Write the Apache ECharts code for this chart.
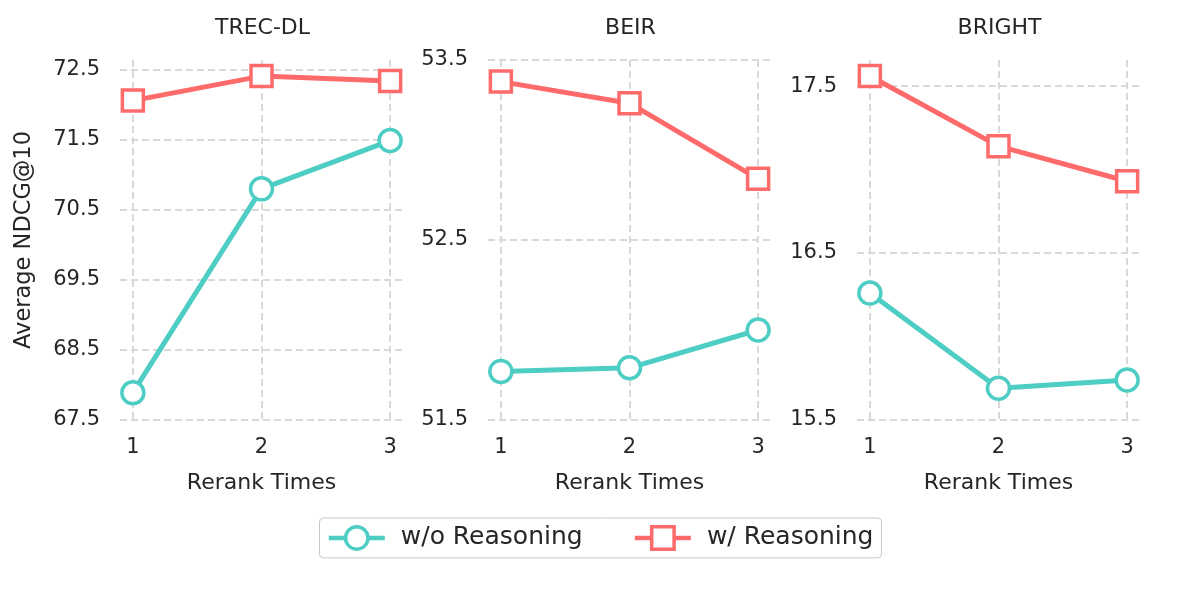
<!DOCTYPE html>
<html lang="en">
<head>
  <meta charset="UTF-8">
  <title>Rerank Times</title>
  <script src="https://cdn.jsdelivr.net/npm/echarts@6/dist/echarts.min.js"></script>
  <style>
    html, body { margin: 0; padding: 0; background: #fff; }
    #chart { width: 1200px; height: 600px; }
  </style>
</head>
<body>
  <div id="chart"></div>
  <script>
    // data
    const rerankTimes = [1, 2, 3];
    const panelNames = ['TREC-DL', 'BEIR', 'BRIGHT'];
    const seriesNames = ['w/o Reasoning', 'w/ Reasoning'];

    const trecNoReason = [67.89, 70.80, 71.49];
    const trecReason = [72.06, 72.41, 72.34];
    const beirNoReason = [51.77, 51.79, 52.00];
    const beirReason = [53.38, 53.26, 52.84];
    const brightNoReason = [16.26, 15.69, 15.74];
    const brightReason = [17.56, 17.14, 16.93];

    const trecTicks = [67.5, 68.5, 69.5, 70.5, 71.5, 72.5];
    const beirTicks = [51.5, 52.5, 53.5];
    const brightTicks = [15.5, 16.5, 17.5];

    const noReason = [trecNoReason, beirNoReason, brightNoReason];
    const reason = [trecReason, beirReason, brightReason];
    const yTicks = [trecTicks, beirTicks, brightTicks];
    const yRange = [[67.5, 72.64], [51.5, 53.5], [15.5, 17.656]];

    const teal = '#4ECDC4';
    const coral = '#FF6B6B';
    const textColor = '#262626';
    const font = 'DejaVu Sans';

    const gridLeft = [120, 488, 857];
    const gridWidth = 283;

    const chart = echarts.init(document.getElementById('chart'));

    const gridLine = { show: true, lineStyle: { color: '#d9d9d9', width: 2, type: [7, 4] } };

    let grids = [], xAxes = [], yAxes = [], titles = [], series = [];
    for (let i = 0; i < 3; i++) {
      grids.push({ left: gridLeft[i], width: gridWidth, top: 60, height: 360 });
      titles.push({
        text: panelNames[i],
        left: gridLeft[i] + gridWidth / 2 - 4,
        top: 12,
        textAlign: 'center',
        textStyle: { fontFamily: font, fontSize: 22, fontWeight: 'normal', color: textColor }
      });
      xAxes.push({
        gridIndex: i,
        type: 'value',
        min: 0.9,
        max: 3.1,
        name: 'Rerank Times',
        nameLocation: 'middle',
        nameGap: 52,
        nameTextStyle: { fontFamily: font, fontSize: 22, color: textColor },
        axisLine: { show: false },
        axisTick: { show: false, customValues: rerankTimes },
        axisLabel: { customValues: rerankTimes, fontFamily: font, fontSize: 21, color: textColor, margin: 17 },
        splitLine: gridLine
      });
      yAxes.push({
        gridIndex: i,
        type: 'value',
        min: yRange[i][0],
        max: yRange[i][1],
        name: i === 0 ? 'Average NDCG@10' : '',
        nameLocation: 'middle',
        nameGap: 84,
        nameTextStyle: { fontFamily: font, fontSize: 22.5, color: textColor },
        axisLine: { show: false },
        axisTick: { show: false, customValues: yTicks[i] },
        axisLabel: {
          customValues: yTicks[i], fontFamily: font, fontSize: 21, color: textColor, margin: 20,
          padding: [3, 0, 0, 0],
          formatter: v => v.toFixed(1)
        },
        splitLine: gridLine
      });
      series.push({
        name: seriesNames[0],
        type: 'line',
        xAxisIndex: i, yAxisIndex: i,
        data: rerankTimes.map((x, k) => [x, noReason[i][k]]),
        symbol: 'circle',
        symbolSize: 22,
        lineStyle: { color: teal, width: 5 },
        itemStyle: { color: '#fff', borderColor: teal, borderWidth: 3.5 },
        z: 3
      });
      series.push({
        name: seriesNames[1],
        type: 'line',
        xAxisIndex: i, yAxisIndex: i,
        data: rerankTimes.map((x, k) => [x, reason[i][k]]),
        symbol: 'rect',
        symbolSize: 21,
        lineStyle: { color: coral, width: 5 },
        itemStyle: { color: '#fff', borderColor: coral, borderWidth: 3.5 },
        z: 3
      });
    }

    chart.setOption({
      animation: false,
      title: titles,
      grid: grids,
      xAxis: xAxes,
      yAxis: yAxes,
      series: series,
      legend: {
        data: seriesNames,
        left: 'center',
        top: 518,
        itemWidth: 56,
        itemHeight: 28,
        itemGap: 50,
        padding: [7, 8, 7, 7],
        borderColor: '#c8c8c8',
        borderWidth: 1,
        borderRadius: 4,
        lineStyle: { width: 4.5 },
        itemStyle: { borderWidth: 3.5 },
        textStyle: { fontFamily: font, fontSize: 25, color: textColor, padding: [0, 0, 0, 11] }
      }
    });
  </script>
</body>
</html>
